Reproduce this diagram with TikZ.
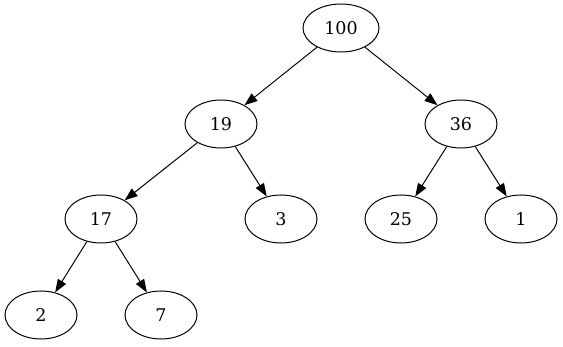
\documentclass[tikz,border=0pt]{standalone}
\usepackage{fontspec}
\setmainfont{DejaVu Serif}
\usetikzlibrary{shapes.geometric,arrows.meta}
\begin{document}
\begin{tikzpicture}[x=1pt,y=-1pt,
  nd/.style={draw,ellipse,line width=1pt,minimum width=72pt,minimum height=48pt,inner sep=0pt,font=\fontsize{17.5}{20}\selectfont},
  ed/.style={line width=1pt,-{Triangle[length=13pt,width=9.5pt]}}]
\useasboundingbox (0,0) rectangle (563,347);
\node[nd,minimum width=76pt] (n100) at (341,28) {100};
\node[nd] (n19) at (221,124) {19};
\node[nd] (n36) at (461,124) {36};
\node[nd] (n17) at (101,219) {17};
\node[nd] (n3) at (281,219) {3};
\node[nd] (n25) at (401,219) {25};
\node[nd] (n1) at (521,219) {1};
\node[nd] (n2) at (41,315) {2};
\node[nd] (n7) at (161,315) {7};
\draw[ed] (n100) -- (n19);
\draw[ed] (n100) -- (n36);
\draw[ed] (n19) -- (n17);
\draw[ed] (n19) -- (n3);
\draw[ed] (n36) -- (n25);
\draw[ed] (n36) -- (n1);
\draw[ed] (n17) -- (n2);
\draw[ed] (n17) -- (n7);
\end{tikzpicture}
\end{document}
